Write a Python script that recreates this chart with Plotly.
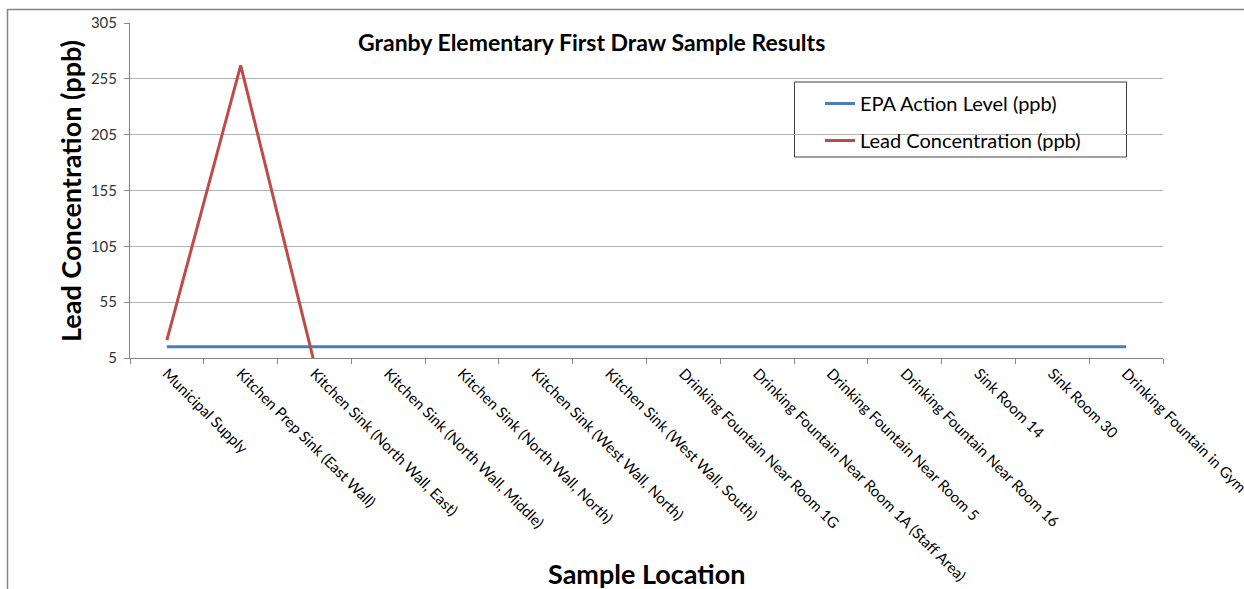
import plotly.graph_objects as go

categories = [
    "Municipal Supply",
    "Kitchen Prep Sink (East Wall)",
    "Kitchen Sink (North Wall, East)",
    "Kitchen Sink (North Wall, Middle)",
    "Kitchen Sink (North Wall, North)",
    "Kitchen Sink (West Wall, North)",
    "Kitchen Sink (West Wall, South)",
    "Drinking Fountain Near Room 1G",
    "Drinking Fountain Near Room 1A (Staff Area)",
    "Drinking Fountain Near Room 5",
    "Drinking Fountain Near Room 16",
    "Sink Room 14",
    "Sink Room 30",
    "Drinking Fountain in Gym",
]
epa_action_level = [15, 15, 15, 15, 15, 15, 15, 15, 15, 15, 15, 15, 15, 15]
lead_concentration = [21, 267, 0, 0, 0, 0, 0, 0, 0, 0, 0, 0, 0, 0]
y_ticks = [5, 55, 105, 155, 205, 255, 305]

FONT = "Lato"
W, H = 1244, 589
L, R, T, B = 130, 1163, 23, 358

def px_x(p):
    return (p - L) / (R - L)

def px_y(p):
    return (B - p) / (B - T)

fig = go.Figure()
fig.add_trace(go.Scatter(
    x=categories, y=epa_action_level, mode="lines",
    name="EPA Action Level (ppb)", legendgroup="a",
    line=dict(color="#4A7EBB", width=3),
))
fig.add_trace(go.Scatter(
    x=categories, y=lead_concentration, mode="lines",
    name="Lead Concentration (ppb)", legendgroup="b",
    line=dict(color="#BE4B48", width=3),
))

fig.update_layout(
    width=W, height=H,
    margin=dict(l=L, r=W - R, t=T, b=H - B, autoexpand=False),
    paper_bgcolor="white", plot_bgcolor="white",
    font=dict(family=FONT, color="#000000"),
    showlegend=True,
    legend=dict(
        x=px_x(820), y=px_y(84), xanchor="left", yanchor="top",
        bgcolor="rgba(0,0,0,0)", borderwidth=0,
        font=dict(family=FONT, size=20, color="#000000"),
        tracegroupgap=8, itemwidth=30,
    ),
    xaxis=dict(
        type="category", range=[-0.5, len(categories) - 0.5],
        showgrid=False, showline=True, linecolor="#868686", linewidth=1,
        ticks="outside", tickson="boundaries", ticklen=5, tickcolor="#868686",
        tickangle=45, tickfont=dict(family=FONT, size=15, color="#000000"),
        fixedrange=True,
    ),
    yaxis=dict(
        range=[5, 305], tickvals=y_ticks, ticktext=[str(v) for v in y_ticks],
        showgrid=True, gridcolor="#B3B3B3", gridwidth=1,
        showline=True, linecolor="#868686", linewidth=1,
        ticks="outside", ticklen=5, tickcolor="#868686",
        tickfont=dict(family=FONT, size=15, color="#333333"),
        ticklabelstandoff=4,
        zeroline=False, fixedrange=True,
    ),
    annotations=[
        dict(text="<b>Granby Elementary First Draw Sample Results</b>",
             xref="paper", yref="paper", x=px_x(591), y=px_y(42),
             xanchor="center", yanchor="middle", showarrow=False,
             font=dict(family=FONT, size=23, color="#000000")),
        dict(text="<b>Sample Location</b>",
             xref="paper", yref="paper", x=px_x(646), y=px_y(573),
             xanchor="center", yanchor="middle", showarrow=False,
             font=dict(family=FONT, size=27, color="#000000")),
        dict(text="<b>Lead Concentration (ppb)</b>",
             xref="paper", yref="paper", x=px_x(70), y=px_y(191),
             xanchor="center", yanchor="middle", showarrow=False, textangle=-90,
             font=dict(family=FONT, size=27, color="#000000")),
    ],
    shapes=[
        dict(type="rect", xref="paper", yref="paper",
             x0=px_x(7.5), x1=px_x(1300), y0=px_y(650), y1=px_y(9.5),
             line=dict(color="#868686", width=1.5), fillcolor="rgba(0,0,0,0)",
             layer="below"),
        dict(type="rect", xref="paper", yref="paper",
             x0=px_x(794.5), x1=px_x(1126.5), y0=px_y(157), y1=px_y(82),
             line=dict(color="#404040", width=1), fillcolor="white",
             layer="below"),
    ],
)

fig.write_html(
    "out.html",
    config={"displayModeBar": False},
    post_script="document.body.style.margin='0';document.body.style.overflow='hidden';",
)
